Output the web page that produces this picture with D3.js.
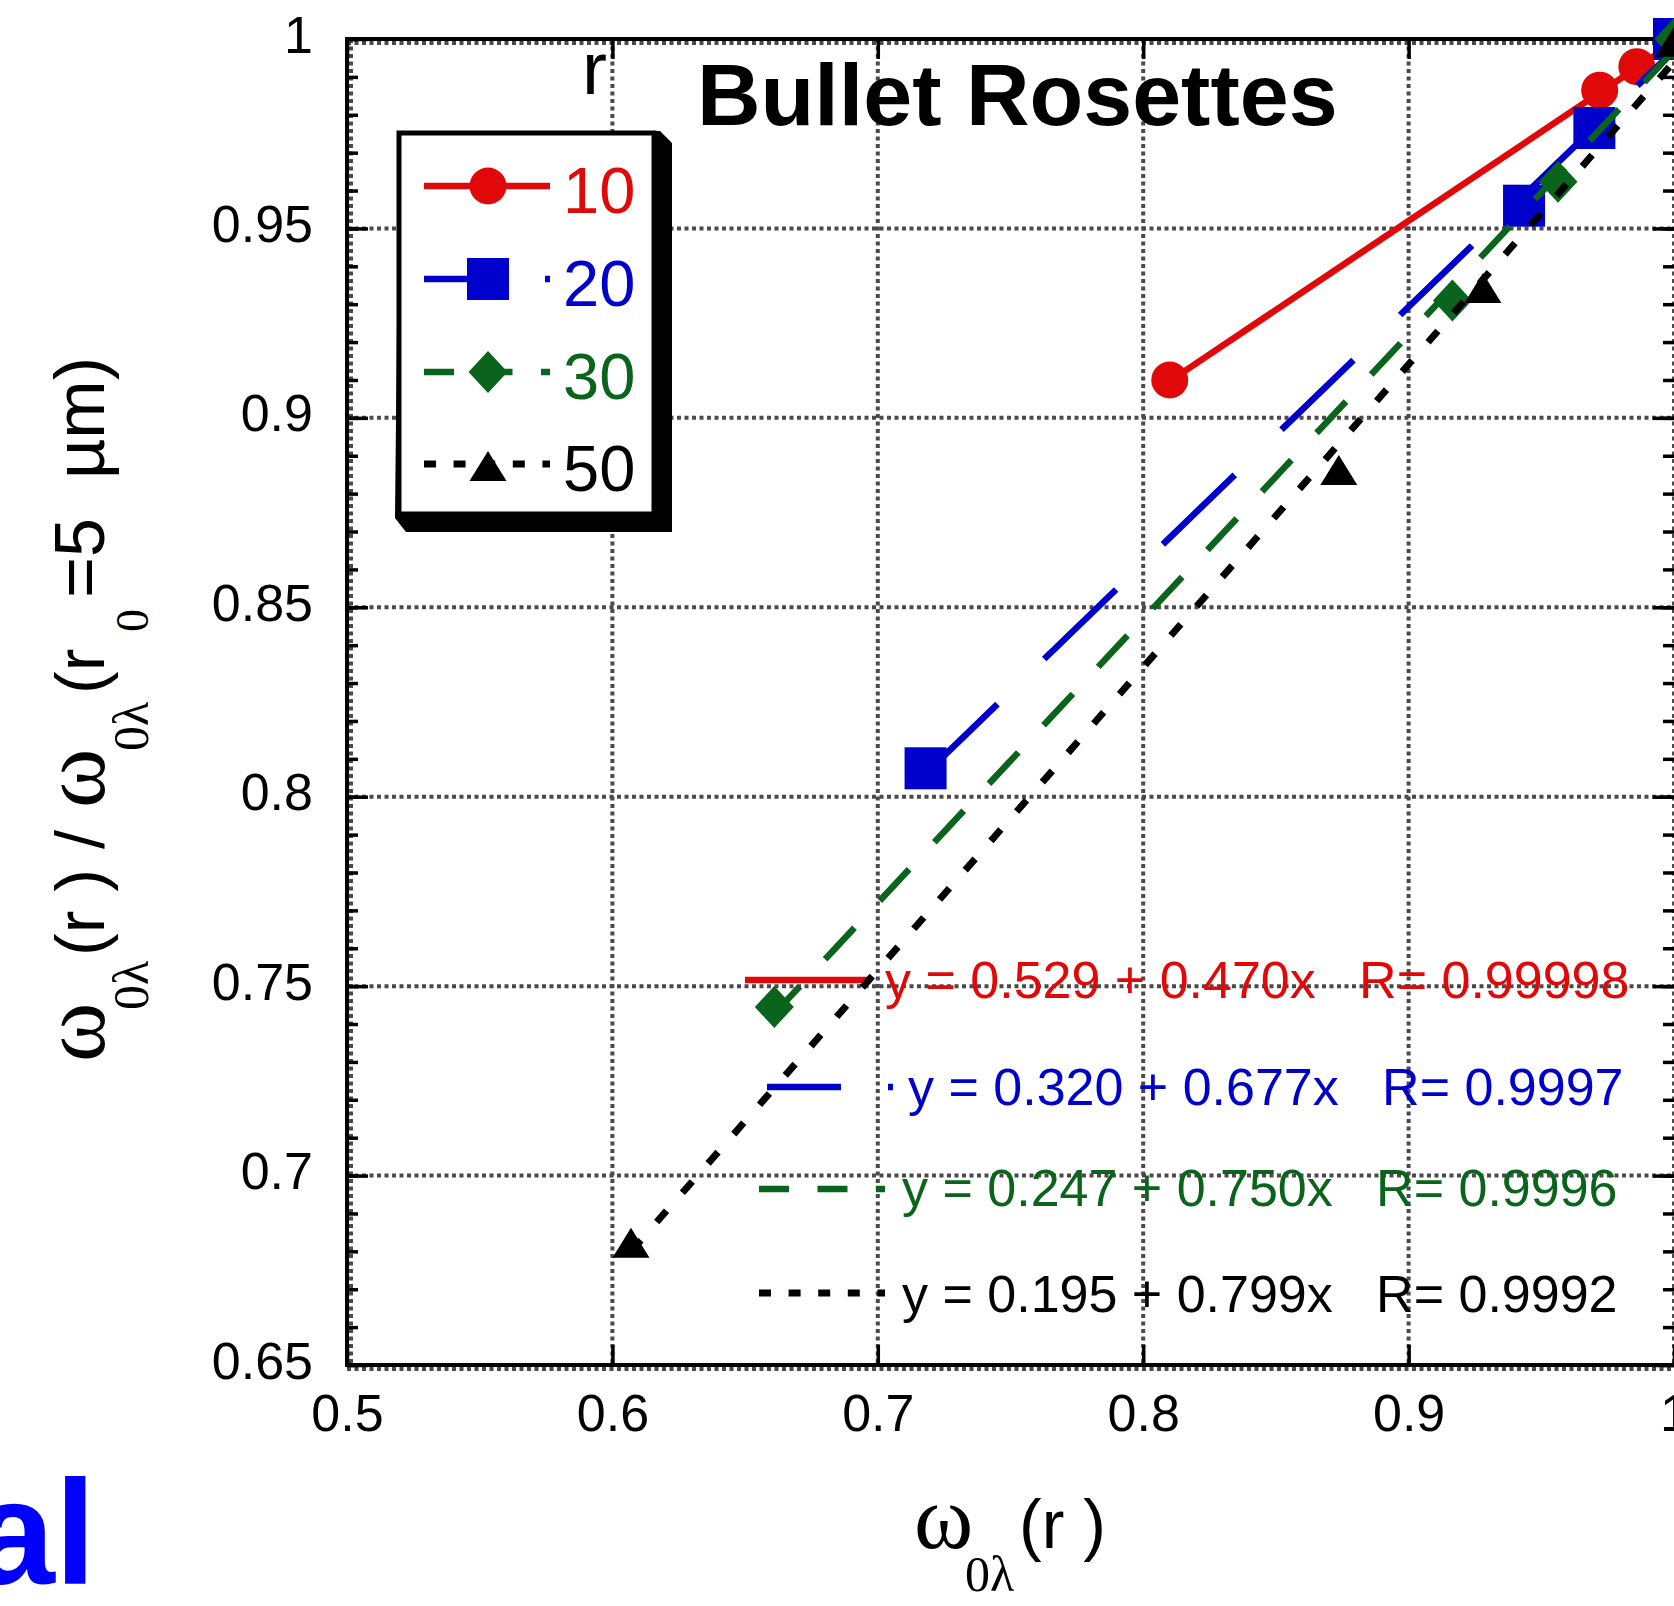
<!DOCTYPE html>
<html><head><meta charset="utf-8">
<script src="https://cdn.jsdelivr.net/npm/d3@7"></script>
<style>html,body{margin:0;padding:0;background:#fff;overflow:hidden}</style>
</head><body>
<svg id="c" width="1674" height="1606" xmlns="http://www.w3.org/2000/svg"></svg>
<script>
// ---------------- data ----------------
const seriesNames = ["10", "20", "30", "50"];
const x10 = [0.810, 0.972, 0.986, 1.000];
const y10 = [0.910, 0.9865, 0.9927, 1.000];
const x20 = [0.718, 0.9435, 0.970, 1.000];
const y20 = [0.8075, 0.956, 0.9765, 1.000];
const x30 = [0.661, 0.9165, 0.9563, 1.000];
const y30 = [0.7445, 0.931, 0.9623, 1.000];
const x50 = [0.607, 0.8737, 0.928, 1.000];
const y50 = [0.682, 0.886, 0.934, 0.999];
const fitIntercepts = ["0.529", "0.320", "0.247", "0.195"];
const fitSlopes = ["0.470", "0.677", "0.750", "0.799"];
const fitR = ["0.99998", "0.9997", "0.9996", "0.9992"];
const xTicks = [0.5, 0.6, 0.7, 0.8, 0.9, 1.0];
const xTickLabels = ["0.5", "0.6", "0.7", "0.8", "0.9", "1"];
const yTicks = [0.65, 0.7, 0.75, 0.8, 0.85, 0.9, 0.95, 1.0];
const yTickLabels = ["0.65", "0.7", "0.75", "0.8", "0.85", "0.9", "0.95", "1"];
const yMinorTicks = d3.range(65, 101).map(v => v / 100);
const titleText = "Bullet Rosettes";

// ---------------- styles ----------------
const SANS = "'Liberation Sans', Arial, Helvetica, sans-serif";
const SERIF = "'Liberation Serif', 'Times New Roman', serif";
const colors = ["#e00808", "#0000cc", "#0a641c", "#000000"];
const lineWidths = [6.5, 6.5, 6.5, 7];
const plotDash = [null, "100,65", "43,37", "15,24"];
const plotDashOffset = [0, 0, 5.5, 0];
const legDash = [null, "74,47", "30,28.5", "12,17.6"];
const markerType = ["circle", "square", "diamond", "triangle"];

const svg = d3.select("#c");
const x = d3.scaleLinear().domain([0.5, 1]).range([347, 1674]);
const y = d3.scaleLinear().domain([0.65, 1]).range([1365, 39]);

// ---------------- grid ----------------
const grid = svg.append("g").attr("stroke", "#4a4a4a").attr("stroke-width", 4)
  .attr("stroke-dasharray", "4,3.5").attr("fill", "none");
xTicks.forEach(t => {
  const px = x(t) + (t === 0.5 ? 4 : 0);
  grid.append("line").attr("x1", px).attr("x2", px).attr("y1", y(1)).attr("y2", y(0.65));
});
yTicks.forEach(t => {
  const py = y(t) + ((t === 1 || t === 0.65) ? 4 : 0);
  grid.append("line").attr("x1", x(0.5)).attr("x2", x(1)).attr("y1", py).attr("y2", py);
});

// ---------------- axes ----------------
function styleAxis(g) {
  g.select(".domain").remove();
  g.selectAll(".tick line").attr("stroke", "#000").attr("stroke-width", 3.5);
  g.selectAll(".tick text").attr("font-family", SANS).attr("font-size", 52).attr("fill", "#000");
}
svg.append("g").attr("transform", `translate(${x(0.5)},0)`)
  .call(d3.axisLeft(y).tickValues(yMinorTicks).tickSize(-11).tickFormat(""))
  .call(styleAxis);
const gl = svg.append("g").attr("transform", `translate(${x(0.5)},0)`)
  .call(d3.axisLeft(y).tickValues(yTicks).tickSize(-21).tickPadding(34)
    .tickFormat((d, i) => yTickLabels[i]))
  .call(styleAxis);
gl.selectAll(".tick text").attr("dy", "0.25em");
svg.append("g").attr("transform", `translate(${x(1)},0)`)
  .call(d3.axisRight(y).tickValues(yMinorTicks).tickSize(-11).tickFormat(""))
  .call(styleAxis);
svg.append("g").attr("transform", `translate(${x(1)},0)`)
  .call(d3.axisRight(y).tickValues(yTicks).tickSize(-21).tickFormat(""))
  .call(styleAxis);
svg.append("g").attr("transform", `translate(0,${y(0.65)})`)
  .call(d3.axisBottom(x).tickValues(xTicks).tickSize(-20).tickPadding(29)
    .tickFormat((d, i) => xTickLabels[i]))
  .call(styleAxis);
svg.append("g").attr("transform", `translate(0,${y(1)})`)
  .call(d3.axisTop(x).tickValues(xTicks).tickSize(-20).tickFormat(""))
  .call(styleAxis);

// frame
svg.append("path")
  .attr("d", `M${x(1)},${y(1)}H${x(0.5)}V${y(0.65)}H${x(1)}`)
  .attr("fill", "none").attr("stroke", "#000").attr("stroke-width", 4).attr("stroke-linecap", "square");

// ---------------- fit legend (equations) ----------------
const fitRows = [
  {x1: 745, x2: 871, y: 980, tx: 885, ty: 998},
  {x1: 767, x2: 893, y: 1087, tx: 908, ty: 1105},
  {x1: 759, x2: 885, y: 1189, tx: 902, ty: 1206},
  {x1: 759, x2: 885, y: 1293, tx: 902, ty: 1312}
];
fitRows.forEach((r, i) => {
  const l = svg.append("line").attr("x1", r.x1).attr("x2", r.x2).attr("y1", r.y).attr("y2", r.y)
    .attr("stroke", colors[i]).attr("stroke-width", lineWidths[i]);
  if (legDash[i]) l.attr("stroke-dasharray", legDash[i]);
  svg.append("text").attr("x", r.tx).attr("y", r.ty)
    .attr("font-family", SANS).attr("font-size", 52).attr("fill", colors[i])
    .attr("xml:space", "preserve").style("white-space", "pre")
    .text(`y = ${fitIntercepts[i]} + ${fitSlopes[i]}x   R= ${fitR[i]}`);
});

// ---------------- data: fit lines + markers ----------------
const seriesX = [x10, x20, x30, x50];
const seriesY = [y10, y20, y30, y50];
const lineGen = d3.line().x(d => x(d[0])).y(d => y(d[1]));

function drawMarker(g, type, cx, cy, color) {
  if (type === "circle") g.append("circle").attr("cx", cx).attr("cy", cy).attr("r", 18.5).attr("fill", color);
  else if (type === "square") g.append("rect").attr("x", cx - 21).attr("y", cy - 21).attr("width", 42).attr("height", 42).attr("fill", color);
  else if (type === "diamond") g.append("path").attr("d", `M${cx},${cy - 21}L${cx + 19.5},${cy}L${cx},${cy + 21}L${cx - 19.5},${cy}Z`).attr("fill", color);
  else g.append("path").attr("d", `M${cx},${cy - 16}L${cx + 18.5},${cy + 14}L${cx - 18.5},${cy + 14}Z`).attr("fill", color);
}

const dataG = svg.append("g");
seriesX.forEach((xs, i) => {
  const a = +fitIntercepts[i], b = +fitSlopes[i];
  const xa = d3.min(xs), xb = d3.max(xs);
  const p = dataG.append("path").attr("d", lineGen([[xa, a + b * xa], [xb, a + b * xb]]))
    .attr("fill", "none").attr("stroke", colors[i]).attr("stroke-width", lineWidths[i]);
  if (plotDash[i]) p.attr("stroke-dasharray", plotDash[i]).attr("stroke-dashoffset", plotDashOffset[i]);
  xs.forEach((xv, j) => drawMarker(dataG, markerType[i], x(xv), y(seriesY[i][j]), colors[i]));
});

// ---------------- series legend box ----------------
const lg = svg.append("g");
lg.append("path").attr("d", "M399,133L660,131L672,143L672,532L406,532L395,518Z").attr("fill", "#000");
lg.append("rect").attr("x", 399).attr("y", 133).attr("width", 255).attr("height", 381)
  .attr("fill", "#fff").attr("stroke", "#000").attr("stroke-width", 5);
const legRowsY = [186, 279, 372, 464];
seriesNames.forEach((name, i) => {
  const ry = legRowsY[i];
  const l = lg.append("line").attr("x1", 424).attr("x2", 550).attr("y1", ry).attr("y2", ry)
    .attr("stroke", colors[i]).attr("stroke-width", lineWidths[i]);
  if (legDash[i]) l.attr("stroke-dasharray", legDash[i]);
  drawMarker(lg, markerType[i], 488, ry + (i === 3 ? 3 : 0), colors[i]);
  lg.append("text").attr("x", 563).attr("y", ry + 27).attr("font-family", SANS)
    .attr("font-size", 65).attr("fill", colors[i]).text(name);
});

// ---------------- texts ----------------
svg.append("text").attr("x", 697).attr("y", 125).attr("font-family", SANS)
  .attr("font-weight", "bold").attr("font-size", 88).attr("fill", "#000").text(titleText);
svg.append("text").attr("x", 582).attr("y", 94).attr("font-family", SANS)
  .attr("font-size", 75).attr("fill", "#000").text("r");
svg.append("text").attr("x", 96).attr("y", 1584).attr("text-anchor", "end").attr("font-family", SANS)
  .attr("font-weight", "bold").attr("font-size", 148).attr("fill", "#0000ff").text("al");

// x label
const xl = svg.append("text").attr("fill", "#000").attr("xml:space", "preserve").style("white-space", "pre");
xl.append("tspan").attr("x", 914).attr("y", 1548).attr("font-family", SERIF).attr("font-size", 90).text("ω");
xl.append("tspan").attr("x", 965).attr("y", 1591).attr("font-family", SERIF).attr("font-size", 50).text("0λ");
xl.append("tspan").attr("x", 1019).attr("y", 1548).attr("font-family", SANS).attr("font-size", 68).text("(r )");

// y label (rotated)
const ySegs = [
  {t: "ω", f: SERIF, s: 90, at: 1062, b: 104},
  {t: "0λ", f: SERIF, s: 50, at: 1010, b: 148},
  {t: "(r )", f: SANS, s: 68, at: 956, b: 104},
  {t: "/", f: SANS, s: 68, at: 849, b: 104},
  {t: "ω", f: SERIF, s: 90, at: 808, b: 104},
  {t: "0λ", f: SERIF, s: 50, at: 751, b: 148},
  {t: "(r", f: SANS, s: 68, at: 694, b: 104},
  {t: "0", f: SERIF, s: 46, at: 632, b: 148},
  {t: "=5", f: SANS, s: 70, at: 598, b: 104},
  {t: "µm)", f: SANS, s: 70, at: 479, b: 104}
];
const yl = svg.append("text").attr("transform", "rotate(-90)").attr("fill", "#000")
  .attr("xml:space", "preserve").style("white-space", "pre");
ySegs.forEach(sg => {
  yl.append("tspan").attr("x", -sg.at).attr("y", sg.b).attr("font-family", sg.f)
    .attr("font-size", sg.s).text(sg.t);
});
</script>
</body></html>
